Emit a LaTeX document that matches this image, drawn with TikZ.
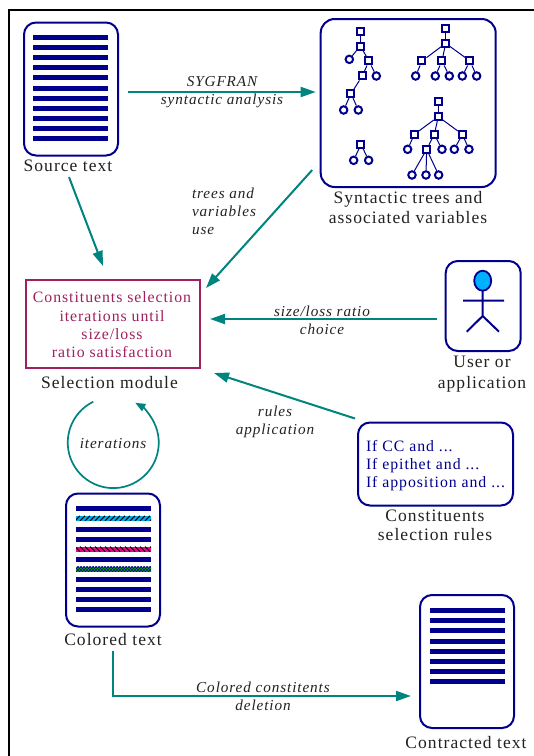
\documentclass[tikz,border=0pt]{standalone}
\usepackage{fontspec}
\setmainfont[LetterSpace=6]{Liberation Serif}
\usetikzlibrary{arrows.meta,patterns,shapes.geometric}
\definecolor{navybox}{HTML}{00008C}
\definecolor{tealline}{HTML}{008480}
\definecolor{maroonbox}{HTML}{A0205F}
\definecolor{inktext}{HTML}{222222}
\definecolor{headblue}{HTML}{00B0FF}
\tikzset{
 docbox/.style={draw=navybox,line width=2pt,rounded corners=12pt,minimum width=94pt,minimum height=133pt,inner sep=0pt},
 bar/.style={fill=navybox},
 conn/.style={draw=tealline,line width=2pt,-{Triangle[length=15pt,width=10pt]}},
 caption/.style={text=inktext,font=\fontsize{17.5}{20}\selectfont,align=center,inner sep=0pt},
 edgelabel/.style={text=inktext,font=\fontsize{15.2}{18}\selectfont\itshape,align=center,inner sep=0pt},
 sq/.style={draw=navybox,line width=2pt,fill=white,minimum size=7pt,inner sep=0pt},
 ci/.style={draw=navybox,line width=2pt,fill=white,circle,minimum size=7.5pt,inner sep=0pt},
 tl/.style={draw=navybox,line width=1pt},
}
\newcommand{\barsat}[2]{\foreach \yy in {#2}{\fill[bar] (#1,\yy-2.5) rectangle +(75,5);}}
\newcommand{\hatchbar}[4]{%
 \fill[#2] (76,#1) rectangle +(75,5);
 \begin{scope}
 \clip (76,#1) rectangle +(75,5);
 \foreach \hx in {70,75,...,160}{\draw[black,line width=1pt] (\hx,#1+#3) -- (\hx+5,#1+#4);}
 \end{scope}}
\begin{document}
\begin{tikzpicture}[x=1pt,y=-1pt]
\useasboundingbox (0,0) rectangle (534,756);
\fill[white] (0,0) rectangle (534,756);
\draw[black,line width=2pt] (9,756) -- (9,10) -- (534,10);

% source
\node[docbox] (src) at (71,89) {};
\barsat{33}{37.5,47.6,57.7,67.8,77.9,88,98.1,108.2,118.3,128.4,138.5}
\node[caption] (srcl) at (68,166) {Source text};

% trees
\node[draw=navybox,line width=2pt,rounded corners=14pt,minimum width=175pt,minimum height=168pt,inner sep=0pt] (trees) at (408.2,103) {};
\node[caption] (treesl) at (408,208) {Syntactic trees and\\associated variables};
\begin{scope}[shift={(310,10)},x=0.3333pt,y=-0.3333pt]
\foreach \n/\xx/\yy in {a1/151/63,a2/151/108,a3/177/153,a4/157/198,a5/123/251,
 b1/407/55,b2/407/100,b3/336/153,b4/396/153,b5/480/153,
 c1/153/403,
 d1/385/274,d2/385/320,d3/313/373,d4/373/373,d5/457/373,d6/350/418}
 {\node[sq] (\n) at (\xx,\yy) {};}
\foreach \n/\xx/\yy in {a6/118/148,a7/199/198,a8/101/300,a9/145/300,
 b6/317/198,b7/376/198,b8/418/198,b9/457/198,b10/500/198,
 c2/131/451,c3/176/451,
 d7/293/418,d8/396/418,d9/433/418,d10/477/418,d11/306/495,d12/348/495,d13/386/495}
 {\node[ci] (\n) at (\xx,\yy) {};}
\foreach \s/\t in {a1/a2,a2/a6,a2/a3,a3/a4,a3/a7,a4/a5,a5/a8,a5/a9,
 b1/b2,b2/b3,b2/b4,b2/b5,b3/b6,b4/b7,b4/b8,b5/b9,b5/b10,
 c1/c2,c1/c3,
 d1/d2,d2/d3,d2/d4,d2/d5,d3/d7,d4/d6,d4/d8,d5/d9,d5/d10,d6/d11,d6/d12,d6/d13}
 {\draw[tl] (\s) -- (\t);}
\end{scope}

% selection
\node[draw=maroonbox,line width=2pt,minimum width=174pt,minimum height=88pt,inner sep=0pt] (sel) at (113,324) {};
\node[text=maroonbox,align=center,inner sep=0pt,font=\fontsize{15.8}{18.3}\selectfont] (selt) at (112,325) {Constituents selection\\iterations until\\size/loss\\ratio satisfaction};
\node[caption] (sell) at (109.5,383) {Selection module};

% iterations
\coordinate (itera) at (93.3,401.7);
\draw[draw=tealline,line width=1.7pt,-{Triangle[length=10pt,width=8pt]}] (itera) arc[start angle=-116,end angle=-421,radius=45.5];
\node[edgelabel] (iterl) at (113,444) {iterations};

% colored
\node[docbox] (col) at (113,560) {};
\barsat{76}{508.3,529.3,539.3,559.3,579.3,589.3,599.3,609.3}
\hatchbar{515.8}{cyan}{5}{0}
\hatchbar{546.5}{magenta}{0}{5}
\fill[green!70!black] (76,566.8) rectangle +(75,5);
\fill[pattern=crosshatch,pattern color=navybox] (76,566.8) rectangle +(75,5);
\node[caption] (coll) at (113,640) {Colored text};

% contracted
\node[docbox] (con) at (467,661.5) {};
\barsat{430}{610.3,620.3,630.3,641.3,651.3,661,671.3,681.3}
\node[caption] (conl) at (466,743) {Contracted text};

% user
\node[draw=navybox,line width=2pt,rounded corners=12pt,minimum width=75pt,minimum height=90pt,inner sep=0pt] (user) at (483.2,306) {};
\draw[navybox,line width=2pt] (482.7,291) -- (482.7,316) (463,300.7) -- (504,300.7) (466.7,331.7) -- (482.7,316) -- (499,331.7);
\node[draw=navybox,line width=1.8pt,fill=headblue,ellipse,minimum width=17pt,minimum height=20pt,inner sep=0pt] (head) at (482.7,280.7) {};
\node[caption,font=\fontsize{17.5}{21}\selectfont] (userl) at (482,374) {User or\\application};

% rules
\node[draw=navybox,line width=2pt,rounded corners=12pt,minimum width=155pt,minimum height=83pt,inner sep=0pt] (rules) at (435.5,464) {};
\node[text=navybox,align=left,inner sep=0pt,font=\fontsize{15.8}{18}\selectfont] (rulest) at (435.5,466) {If CC and ...\\If epithet and ...\\If apposition and ...};
\node[caption,font=\fontsize{17.5}{19}\selectfont] (rulesl) at (435,525.5) {Constituents\\selection rules};

% connectors
\draw[conn] ([shift={(9pt,-3pt)}]src.east) -- ([shift={(-4pt,11pt)}]trees.west);
\node[edgelabel] (l1) at (222,92) {SYGFRAN\\syntactic analysis};
\draw[conn] ([shift={(1pt,-5pt)}]srcl.south) -- ([shift={(-10pt,13pt)}]sel.north);
\draw[conn] ([shift={(-96pt,18pt)}]trees.south) -- ([shift={(5pt,-9pt)}]sel.north east);
\node[edgelabel,align=left] (l2) at (224,211) {trees and\\variables\\use};
\draw[conn] ([shift={(-8pt,-13pt)}]user.west) -- ([shift={(9pt,5pt)}]sel.east);
\node[edgelabel] (l3) at (322,320) {size/loss ratio\\choice};
\draw[conn] ([shift={(-2pt,3pt)}]rules.north west) -- ([shift={(13pt,-4pt)}]sel.south east);
\node[edgelabel] (l4) at (275,421.5) {rules\\application};
\draw[conn] ([shift={(0pt,-5pt)}]coll.south) |- ([shift={(-8pt,-34.5pt)}]con.west);
\node[edgelabel] (l5) at (263,696) {Colored constitents\\deletion};
\end{tikzpicture}
\end{document}
